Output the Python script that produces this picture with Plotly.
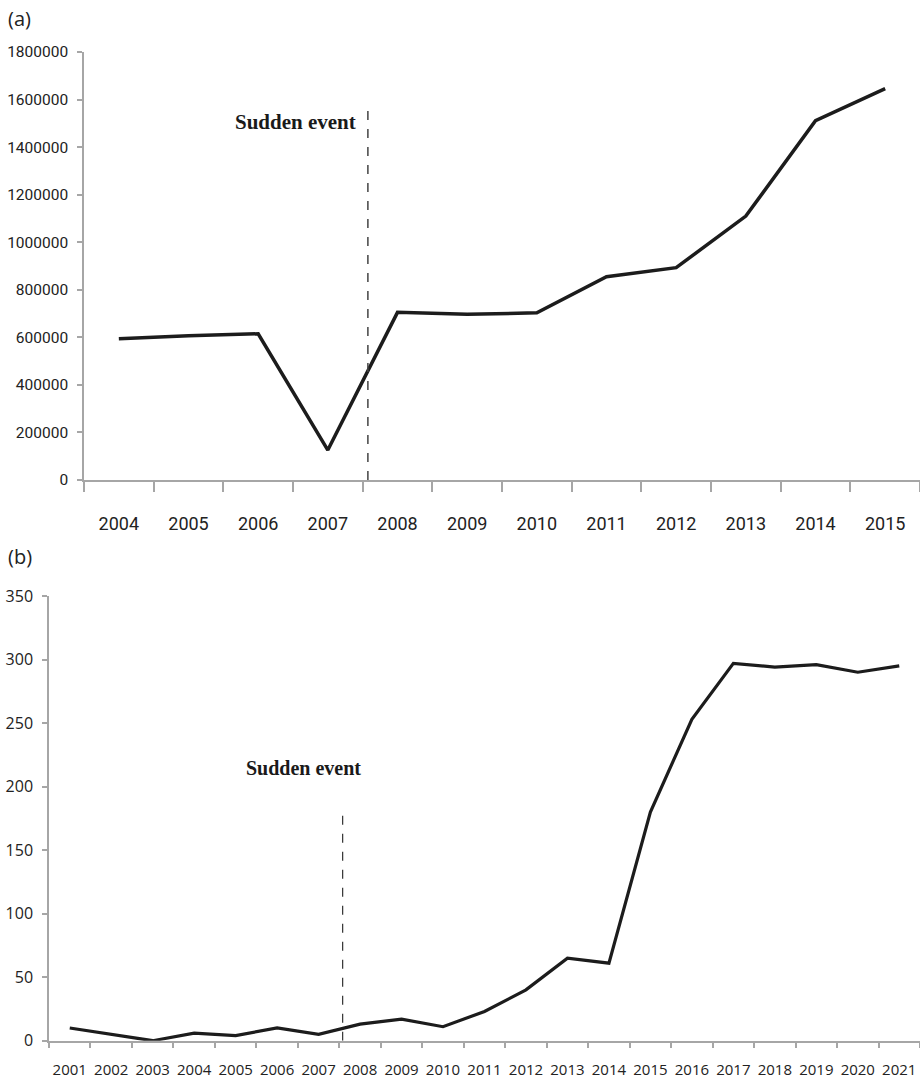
import plotly.graph_objects as go

# ---- data ----
years_a = ["2004", "2005", "2006", "2007", "2008", "2009", "2010", "2011", "2012", "2013", "2014", "2015"]
values_a = [594000, 607000, 615000, 126000, 705000, 697000, 703000, 855000, 893000, 1110000, 1511000, 1646000]

years_b = ["2001", "2002", "2003", "2004", "2005", "2006", "2007", "2008", "2009", "2010", "2011",
           "2012", "2013", "2014", "2015", "2016", "2017", "2018", "2019", "2020", "2021"]
values_b = [10, 5, 0, 6, 4, 10, 5, 13, 17, 11, 23, 40, 65, 61, 180, 253, 297, 294, 296, 290, 295]

yticks_a = [0, 200000, 400000, 600000, 800000, 1000000, 1200000, 1400000, 1600000, 1800000]
yticks_b = [0, 50, 100, 150, 200, 250, 300, 350]

event_label = "Sudden event"
event_pos_a = 3.575      # category position (between 2007 and 2008)
event_top_a = 1570000
event_pos_b = 6.58
event_top_b = 184

W, H = 920, 1080
NARROW = "Roboto, Liberation Sans, sans-serif"
SANS = "Open Sans, Noto Sans, sans-serif"
SERIF = "Liberation Serif, Times New Roman, serif"
AXIS_GREY = "#a6a6a6"
LINE = "#1c1c1c"

fig = go.Figure()
fig.add_trace(go.Scatter(x=years_a, y=values_a, mode="lines",
                         line=dict(color=LINE, width=3.5), xaxis="x", yaxis="y",
                         showlegend=False, hoverinfo="x+y"))
fig.add_trace(go.Scatter(x=years_b, y=values_b, mode="lines",
                         line=dict(color=LINE, width=3.2), xaxis="x2", yaxis="y2",
                         showlegend=False, hoverinfo="x+y"))

def px_x(p):
    return p / W

def px_y(p):
    return 1 - p / H

fig.update_layout(
    width=W, height=H,
    margin=dict(l=0, r=0, t=0, b=0, autoexpand=False),
    paper_bgcolor="white", plot_bgcolor="white",
    xaxis=dict(domain=[px_x(84), 1], type="category", range=[-0.5, len(years_a) - 0.5],
               anchor="y", showgrid=False, zeroline=False, automargin=False,
               showline=True, linecolor=AXIS_GREY, linewidth=1.5,
               ticks="outside", tickson="boundaries", ticklen=10, tickwidth=1.5, tickcolor=AXIS_GREY,
               tickangle=0,
               tickfont=dict(family=NARROW, size=18, color="#222"), ticklabelstandoff=27),
    yaxis=dict(domain=[px_y(480), px_y(52)], range=[0, 1800000], anchor="x",
               showgrid=False, zeroline=False, automargin=False,
               showline=True, linecolor=AXIS_GREY, linewidth=1.5,
               ticks="outside", ticklen=5, tickwidth=1.5, tickcolor=AXIS_GREY,
               tickvals=yticks_a, ticktext=[str(v) for v in yticks_a],
               tickfont=dict(family=NARROW, size=15.5, color="#222"), ticklabelstandoff=6),
    xaxis2=dict(domain=[px_x(49), 1], type="category", range=[-0.5, len(years_b) - 0.5],
                anchor="y2", showgrid=False, zeroline=False, automargin=False,
                showline=True, linecolor=AXIS_GREY, linewidth=1.5,
                ticks="outside", tickson="boundaries", ticklen=6, tickwidth=1.5, tickcolor=AXIS_GREY,
                tickangle=0,
                tickfont=dict(family=SANS, size=15, color="#222"), ticklabelstandoff=15),
    yaxis2=dict(domain=[px_y(1040.7), px_y(596)], range=[0, 350], anchor="x2",
                showgrid=False, zeroline=False, automargin=False,
                showline=True, linecolor=AXIS_GREY, linewidth=1.5,
                ticks="outside", ticklen=5, tickwidth=1.5, tickcolor=AXIS_GREY,
                tickvals=yticks_b,
                tickfont=dict(family=SANS, size=16, color="#222"), ticklabelstandoff=6),
    shapes=[
        dict(type="line", xref="x", yref="y", x0=event_pos_a, x1=event_pos_a, y0=0, y1=event_top_a,
             line=dict(color="#444", width=1.5, dash="dash")),
        dict(type="line", xref="x2", yref="y2", x0=event_pos_b, x1=event_pos_b, y0=0, y1=event_top_b,
             line=dict(color="#333", width=1.2, dash="dash")),
    ],
    annotations=[
        dict(text=event_label, xref="x", yref="y", x=event_pos_a, y=1506000, xanchor="right",
             yanchor="middle", xshift=-10, showarrow=False,
             font=dict(family=SERIF, size=21, color="#1a1a1a", weight="bold")),
        dict(text=event_label, xref="x2", yref="y2", x=5.63, y=215, xanchor="center",
             yanchor="middle", showarrow=False,
             font=dict(family=SERIF, size=20, color="#1a1a1a", weight="bold")),
        dict(text="(a)", xref="paper", yref="paper", x=px_x(6), y=px_y(18), xanchor="left",
             yanchor="middle", showarrow=False, font=dict(family=SANS, size=20, color="#222")),
        dict(text="(b)", xref="paper", yref="paper", x=px_x(6), y=px_y(556), xanchor="left",
             yanchor="middle", showarrow=False, font=dict(family=SANS, size=20, color="#222")),
    ],
)

fig.write_html("out.html")
